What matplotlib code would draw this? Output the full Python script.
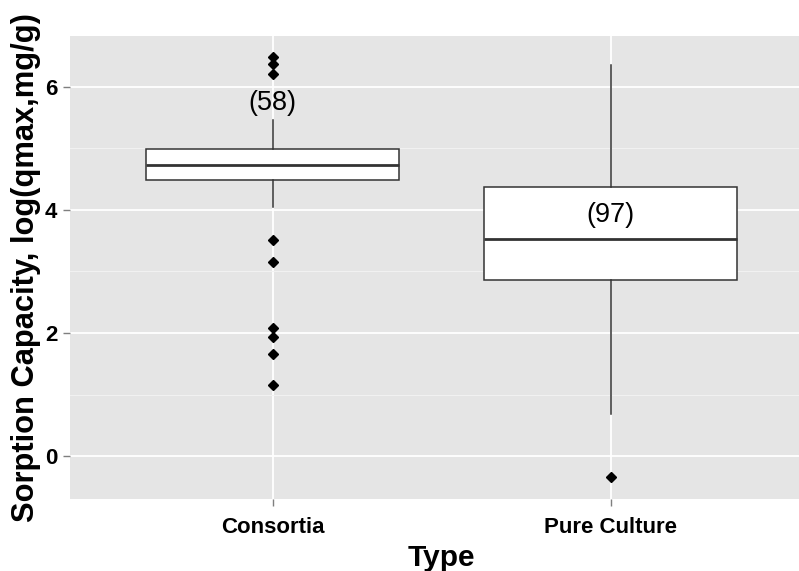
import matplotlib.pyplot as plt
from matplotlib.ticker import MultipleLocator

plt.rcParams['font.family'] = ['Liberation Sans', 'DejaVu Sans']

# 박스플롯 요약값
types = ['Consortia', 'Pure Culture']
q1 = [4.49, 2.86]
median = [4.72, 3.52]
q3 = [4.98, 4.37]
whisker_low = [4.04, 0.69]
whisker_high = [5.46, 6.35]
outliers = [
    [6.48, 6.36, 6.21, 3.51, 3.15, 2.08, 1.93, 1.66, 1.16],
    [-0.34],
]
counts = [58, 97]
label_y = [5.73, 3.92]

stats = []
for i in range(len(types)):
    stats.append({'label': types[i], 'q1': q1[i], 'med': median[i], 'q3': q3[i],
                  'whislo': whisker_low[i], 'whishi': whisker_high[i],
                  'fliers': outliers[i]})

fig = plt.figure(figsize=(7.99, 5.71), dpi=100)
ax = fig.add_axes([0.0875, 0.1261, 0.9307, 0.8109])
ax.set_facecolor('#e5e5e5')

line_col = '#333333'
ax.bxp(stats, positions=[1, 2], widths=0.75, showcaps=False, patch_artist=True,
       boxprops=dict(facecolor='white', edgecolor=line_col, linewidth=1.1),
       medianprops=dict(color=line_col, linewidth=2.0),
       whiskerprops=dict(color=line_col, linewidth=1.1),
       flierprops=dict(marker='D', markerfacecolor='black', markeredgecolor='black',
                       markersize=5.5, linestyle='none'),
       zorder=3)

for i in range(len(types)):
    ax.text(i + 1, label_y[i], f'({counts[i]})', ha='center', va='center',
            fontsize=19.5, color='black', zorder=5)

ax.set_xlim(0.4, 2.6)
ax.set_ylim(-0.69, 6.82)
ax.set_xticks([1, 2])
ax.set_xticklabels(types)
ax.yaxis.set_major_locator(MultipleLocator(2))
ax.yaxis.set_minor_locator(MultipleLocator(1))

ax.grid(True, which='major', color='white', linewidth=1.3, zorder=0)
ax.grid(True, which='minor', axis='y', color='#f2f2f2', linewidth=0.7, zorder=0)
ax.set_axisbelow(True)
for s in ax.spines.values():
    s.set_visible(False)

ax.tick_params(axis='both', which='major', length=5, width=1, color='#7f7f7f',
               labelsize=16)
ax.tick_params(axis='x', which='major', pad=8)
ax.tick_params(axis='y', which='major', pad=4)
ax.tick_params(axis='y', which='minor', length=0)
for lbl in ax.get_xticklabels() + ax.get_yticklabels():
    lbl.set_fontweight('bold')

ax.set_xlabel('Type', fontsize=21.5, fontweight='bold', labelpad=4)
ax.set_ylabel('Sorption Capacity, log(qmax,mg/g)', fontsize=22.2, fontweight='bold', labelpad=3)

fig.savefig('out.png', dpi=100)
